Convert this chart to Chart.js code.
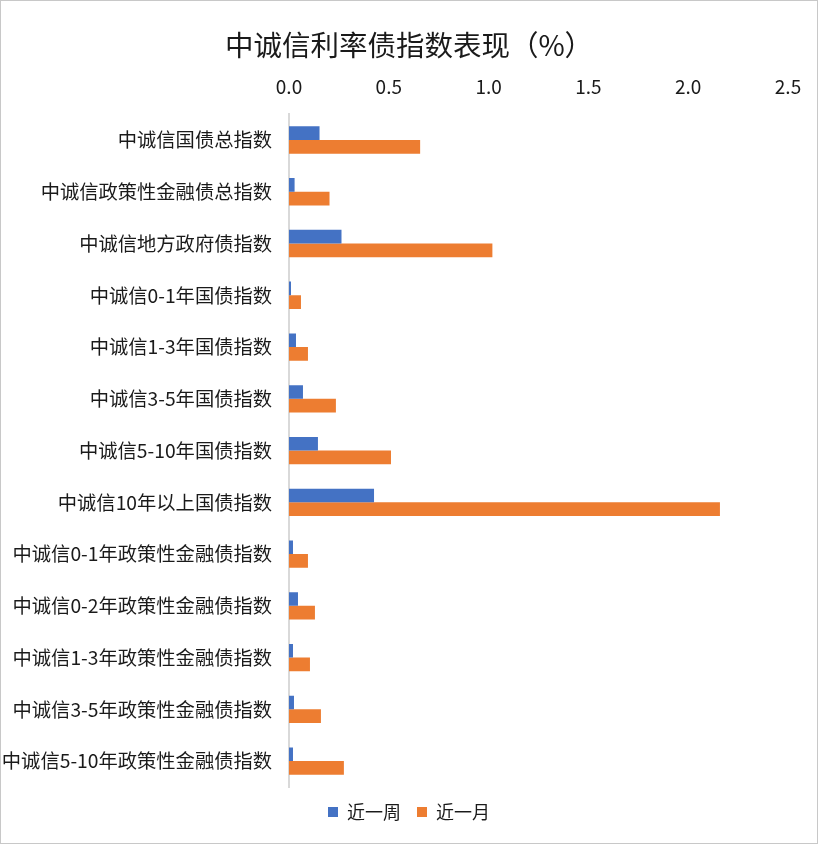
<!DOCTYPE html>
<html>
<head>
<meta charset="utf-8">
<script src="https://cdn.jsdelivr.net/npm/chart.js@4.4.1/dist/chart.umd.min.js"></script>
<style>
  html, body { margin: 0; padding: 0; background: #fff; }
  #wrap { width: 818px; height: 844px; box-sizing: border-box; border: 1px solid #c8c8c8; position: relative; }
</style>
</head>
<body>
<div id="wrap"><canvas id="chart"></canvas></div>
<script>
const categories = [
  "中诚信国债总指数",
  "中诚信政策性金融债总指数",
  "中诚信地方政府债指数",
  "中诚信0-1年国债指数",
  "中诚信1-3年国债指数",
  "中诚信3-5年国债指数",
  "中诚信5-10年国债指数",
  "中诚信10年以上国债指数",
  "中诚信0-1年政策性金融债指数",
  "中诚信0-2年政策性金融债指数",
  "中诚信1-3年政策性金融债指数",
  "中诚信3-5年政策性金融债指数",
  "中诚信5-10年政策性金融债指数"
];
const weekValues = [0.153, 0.028, 0.263, 0.010, 0.035, 0.070, 0.145, 0.426, 0.020, 0.045, 0.020, 0.025, 0.020];
const monthValues = [0.657, 0.203, 1.019, 0.060, 0.095, 0.235, 0.511, 2.159, 0.095, 0.130, 0.105, 0.160, 0.275];
const seriesNames = ["近一周", "近一月"];
const xTicks = [0, 0.5, 1.0, 1.5, 2.0, 2.5];

const fontFamily = "'Noto Sans CJK SC', 'Noto Sans', sans-serif";

const ctx = document.getElementById("chart").getContext("2d");
window.barChart = new Chart(ctx, {
  type: "bar",
  data: {
    labels: categories,
    datasets: [
      {
        label: seriesNames[0],
        data: weekValues,
        backgroundColor: "#4472C4",
        categoryPercentage: 0.53,
        barPercentage: 1.0
      },
      {
        label: seriesNames[1],
        data: monthValues,
        backgroundColor: "#ED7D31",
        categoryPercentage: 0.53,
        barPercentage: 1.0
      }
    ]
  },
  options: {
    indexAxis: "y",
    responsive: true,
    maintainAspectRatio: false,
    animation: false,
    layout: { padding: { left: 2, right: 2, top: 0, bottom: 12 } },
    plugins: {
      title: {
        display: true,
        text: "中诚信利率债指数表现（%）",
        color: "#1a1a1a",
        font: { family: fontFamily, size: 28.5, weight: "normal" },
        padding: { top: 27, bottom: 0 }
      },
      legend: {
        position: "bottom",
        labels: {
          boxWidth: 10,
          boxHeight: 10,
          padding: 16,
          color: "#1a1a1a",
          font: { family: fontFamily, size: 18 }
        }
      },
      tooltip: { enabled: false }
    },
    scales: {
      x: {
        position: "top",
        min: 0,
        max: 2.5,
        afterBuildTicks: axis => { axis.ticks = xTicks.map(v => ({ value: v })); },
        afterFit: axis => { axis.height = 52; axis.paddingRight = 29; },
        grid: { display: false, drawTicks: false },
        border: { display: false },
        ticks: {
          padding: 16,
          color: "#1a1a1a",
          font: { family: fontFamily, size: 19 },
          callback: v => Number(v).toFixed(1)
        }
      },
      y: {
        afterFit: axis => { axis.width = 286; },
        grid: { display: false, drawTicks: false },
        border: { display: true, color: "#d9d9d9", width: 2 },
        ticks: {
          padding: 17,
          color: "#1a1a1a",
          font: { family: fontFamily, size: 19.3 }
        }
      }
    }
  }
});
</script>
</body>
</html>
